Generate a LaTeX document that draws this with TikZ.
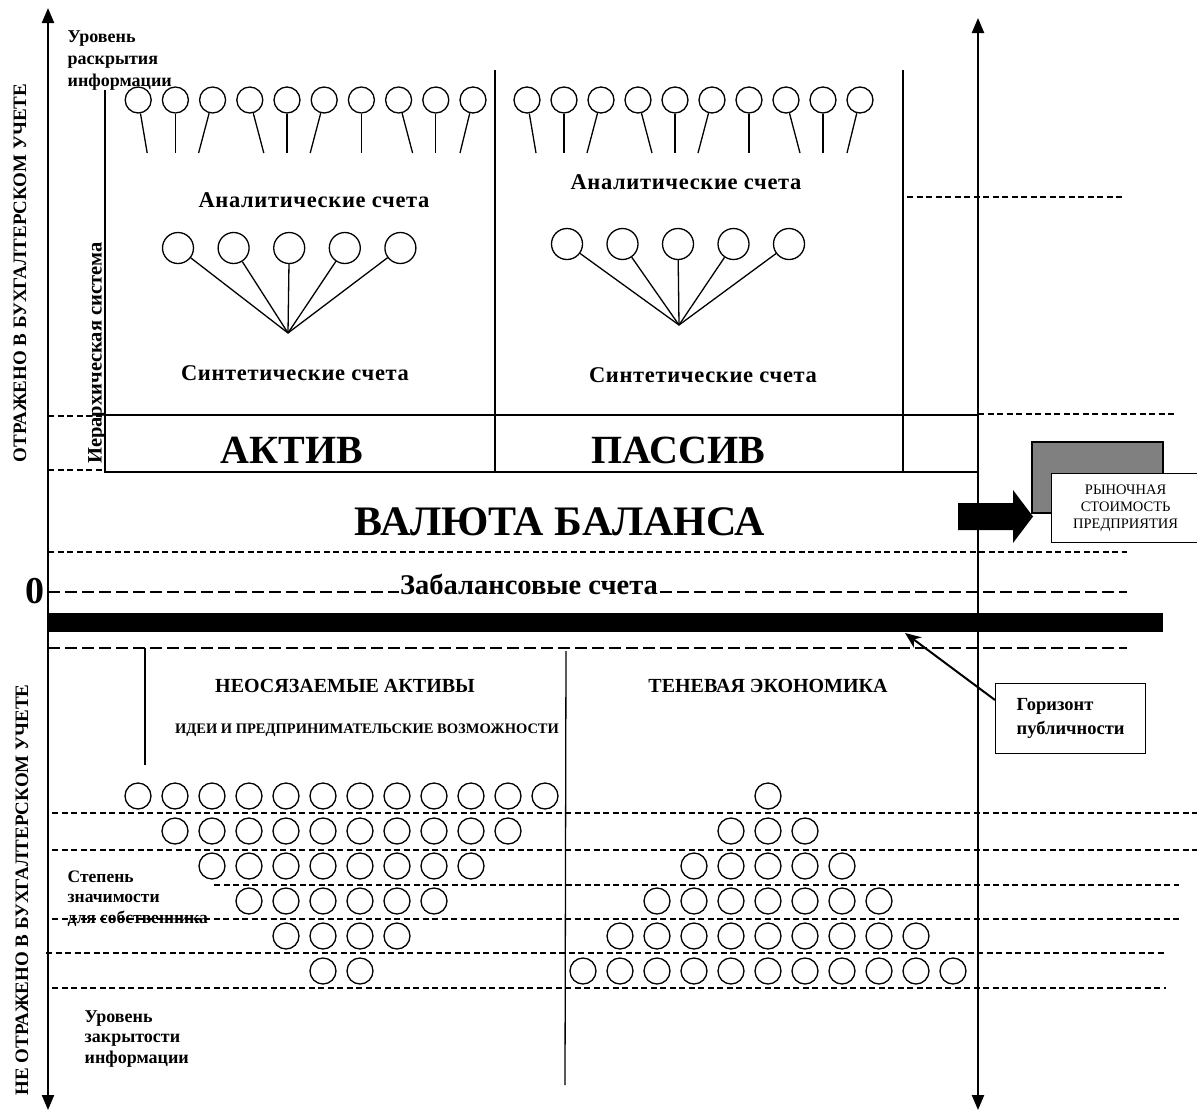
\documentclass[tikz,border=0pt]{standalone}
\usepackage{fontspec}
\setmainfont{Liberation Serif}
\newfontfamily\widefont[LetterSpace=3]{Liberation Serif}
\usetikzlibrary{arrows.meta,calc}
\begin{document}
\begin{tikzpicture}[x=1pt,y=-1pt,line width=1.3pt,
		acc/.style={circle,draw,minimum size=26pt,inner sep=0pt},
		syn/.style={circle,draw,minimum size=31pt,inner sep=0pt},
		own/.style={circle,draw,minimum size=26pt,inner sep=0pt},
		dsh/.style={line width=1.8pt,dash pattern=on 6pt off 3.5pt},
		ldsh/.style={line width=1.8pt,dash pattern=on 12pt off 5pt},
		ttl/.style={font=\widefont\bfseries\fontsize{22.5}{26}\selectfont},
		big/.style={font=\bfseries\fontsize{40}{40}\selectfont},
		lbl/.style={font=\bfseries\fontsize{18}{22}\selectfont,align=left,inner sep=0pt,anchor=north west},
		side/.style={font=\bfseries\fontsize{19}{19}\selectfont,rotate=90},
		axis/.style={line width=2.3pt,{Triangle[length=15pt,width=12pt]}-{Triangle[length=15pt,width=12pt]}}]
	\useasboundingbox (0,0) rectangle (1197,1117);
	\coordinate (lt) at (48,8);
	\coordinate (lb) at (48,1110);
	\coordinate (rt) at (978,18);
	\coordinate (rb) at (978,1110);
	\draw[axis] (lt) -- (lb);
	\draw[axis] (rt) -- (rb);
	\draw (105,90) -- (105,472) -- (978,472);
	\draw (105,415) -- (978,415);
	\draw (495,70) -- (495,472);
	\draw (903,70) -- (903,472);
	\foreach \dx[count=\i] in {9,0,-14,14,0,-14,0,14,0,-13}{
		\node[acc] (al\i) at ({101+37.2*\i},100) {};
		\node[acc] (ar\i) at ({490+37*\i},100) {};
		\draw (al\i) -- ++(\dx,53);
		\draw (ar\i) -- ++(\dx,53);
	}
	\coordinate (lap) at (288,333);
	\coordinate (rap) at (679,325);
	\foreach \i in {1,...,5}{
		\node[syn] (ls\i) at ({122.4+55.6*\i},248) {};
		\node[syn] (rs\i) at ({511.5+55.5*\i},244) {};
		\draw (ls\i) -- (lap);
		\draw (rs\i) -- (rap);
	}
	\node[ttl] (lan) at (314,200) {Аналитические счета};
	\node[ttl] (ran) at (686,182) {Аналитические счета};
	\node[ttl] (lsy) at (295,373) {Синтетические счета};
	\node[ttl] (rsy) at (703,375) {Синтетические счета};
	\node[big] (akt) at (292,450) {АКТИВ};
	\node[big] (pas) at (678,450) {ПАССИВ};
	\node[side,font=\bfseries\fontsize{20.5}{20.5}\selectfont] (hier) at (97,353) {Иерархическая система};
	\node[side] (refl) at (20,273) {ОТРАЖЕНО В БУХГАЛТЕРСКОМ УЧЕТЕ};
	\node[side] (nrefl) at (22,890) {НЕ ОТРАЖЕНО В БУХГАЛТЕРСКОМ УЧЕТЕ};
	\node[lbl] (open) at (67,30) {Уровень\\раскрытия\\информации};
	\draw[dsh] (48,416) -- (105,416);
	\draw[dsh] (48,470) -- (105,470);
	\draw[dsh] (907,197) -- (1122,197);
	\draw[dsh] (978,414) -- (1177,414);
	\draw[line width=1.2pt,fill={rgb,255:red,128;green,128;blue,128}] (1032,442) rectangle (1163,513);
	\node[draw,fill=white,line width=1.2pt,anchor=north west,minimum width=148pt,minimum height=69pt,align=center,font=\fontsize{14.5}{17}\selectfont] (mkt) at (1051,473) {РЫНОЧНАЯ\\СТОИМОСТЬ\\ПРЕДПРИЯТИЯ};
	\fill (958,503) -- (1013,503) -- (1013,490) -- (1033,516.5) -- (1013,543) -- (1013,530) -- (958,530) -- cycle;
	\node[font=\bfseries\fontsize{42}{42}\selectfont] (cur) at (560,522) {ВАЛЮТА БАЛАНСА};
	\draw[dsh] (48,552) -- (1127,552);
	\draw[ldsh] (48,592) -- (1127,592);
	\node[font=\bfseries\fontsize{38}{38}\selectfont] (zero) at (35,591) {0};
	\node[font=\bfseries\fontsize{28.5}{28.5}\selectfont,fill=white,inner sep=1pt] (off) at (529,584) {Забалансовые счета};
	\fill (48,613) rectangle (1163,632);
	\draw[ldsh] (48,648) -- (1127,648);
	\node[draw,line width=1.2pt,anchor=north west,minimum width=150pt,minimum height=70pt,align=left,font=\bfseries\fontsize{18.5}{24}\selectfont] (hor) at (995,683) {Горизонт\\публичности};
	\coordinate (hz) at (905,633);
	\draw[line width=2pt,-{Stealth[length=16pt,width=13pt]}] ($(hor.north west)+(0,17)$) -- (hz);
	\draw (145,648) -- (145,765);
	\draw (566,651) -- (565,1085);
	\node[font=\bfseries\fontsize{20}{24}\selectfont] (intang) at (345,686) {НЕОСЯЗАЕМЫЕ АКТИВЫ};
	\node[font=\bfseries\fontsize{14.5}{17}\selectfont] (ideas) at (367,730) {ИДЕИ И ПРЕДПРИНИМАТЕЛЬСКИЕ ВОЗМОЖНОСТИ};
	\node[font=\bfseries\fontsize{20}{24}\selectfont] (shadow) at (768,686) {ТЕНЕВАЯ ЭКОНОМИКА};
	\foreach \n[count=\r] in {12,10,8,6,4,2}{
		\foreach \k in {1,...,\n}
		\node[own] (l\r-\k) at ({341.5+37*(\k-(\n+1)/2)},{761+35*\r}) {};
	}
	\foreach \n[count=\r] in {1,3,5,7,9,11}{
		\foreach \k in {1,...,\n}
		\node[own] (r\r-\k) at ({768+37*(\k-(\n+1)/2)},{761+35*\r}) {};
	}
	\draw[dsh] (52,813) -- (1197,813);
	\draw[dsh] (52,850) -- (1197,850);
	\draw[dsh] (214,885) -- (1179,885);
	\draw[dsh] (52,919) -- (1181,919);
	\draw[dsh] (46,953) -- (1166,953);
	\draw[dsh] (52,988) -- (1166,988);
	\node[lbl,font=\bfseries\fontsize{17.5}{20.5}\selectfont] (sig) at (67,870) {Степень\\значимости\\для собственника};
	\node[lbl,font=\bfseries\fontsize{18}{20.5}\selectfont] (closed) at (84,1010) {Уровень\\закрытости\\информации};
\end{tikzpicture}
\end{document}
